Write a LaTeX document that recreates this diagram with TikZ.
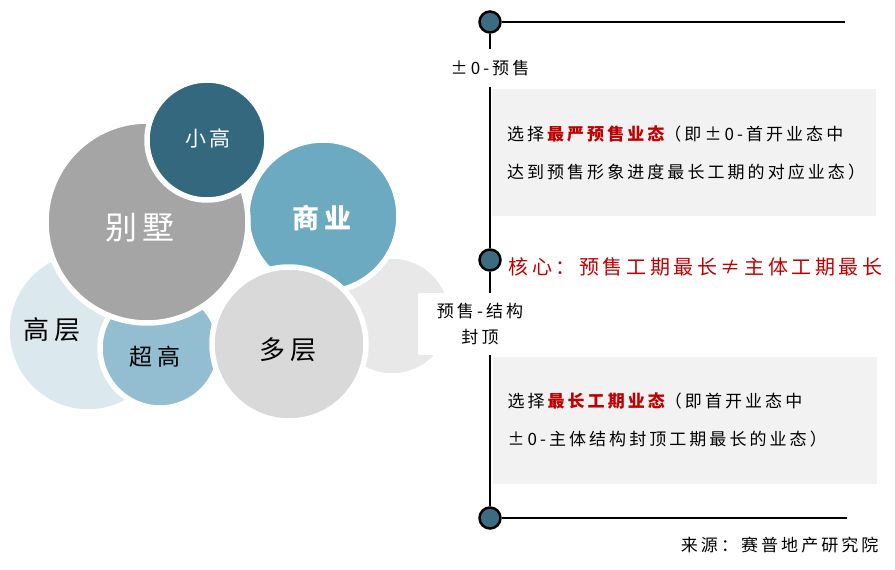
\documentclass[tikz,border=0pt]{standalone}
\usepackage{fontspec}
\setmainfont{Noto Sans CJK SC}[LetterSpace=18]
\definecolor{gaoceng}{HTML}{DBE9EF}
\definecolor{chaogao}{HTML}{93BED1}
\definecolor{sidegray}{HTML}{E8E8E8}
\definecolor{shangye}{HTML}{6BAAC1}
\definecolor{bieshu}{HTML}{A5A5A5}
\definecolor{xiaogao}{HTML}{33687E}
\definecolor{duoceng}{HTML}{D9D9D9}
\definecolor{dotblue}{HTML}{3B6C80}
\definecolor{boxgray}{HTML}{F2F2F2}
\definecolor{keyred}{HTML}{C00000}
\tikzset{
    bubble/.style={draw=white, line width=5.5pt},
    tdot/.style={circle, draw=black, line width=2.5pt, fill=dotblue, minimum size=21pt, inner sep=0pt},
    stage/.style={fill=white, font=\fontsize{17}{26}\selectfont},
    notebox/.style={fill=boxgray, minimum width=384pt, minimum height=127pt, text width=354pt,
        inner xsep=15pt, align=left, font=\fontsize{17}{38}\selectfont},
    tline/.style={line width=1.2pt}
}

\begin{document}
\begin{tikzpicture}[x=1pt, y=-1pt]

            \useasboundingbox (0,0) rectangle (895,570);

            \foreach \cx/\cy/\r/\col in {88/331/81/gaoceng, 160/348/60/chaogao, 392/316/60/sidegray,
                    323/216/76/shangye, 147/222/101/bieshu, 207/140/60/xiaogao, 289/344/77/duoceng} {
                    \filldraw[bubble, fill=\col] (\cx,\cy) circle (\r pt);
                }

            \node[text=white, font=\fontsize{32}{32}\selectfont] (bieshuT) at (140,228) {别墅};
            \node[text=white, font=\fontsize{21}{21}\selectfont] (xiaogaoT) at (208,138) {小高};
            \node[text=white, font=\bfseries\fontsize{27}{27}\selectfont] (shangyeT) at (322,218) {商业};
            \node[font=\fontsize{26}{26}\selectfont] (gaocengT) at (52,330) {高层};
            \node[font=\fontsize{23}{23}\selectfont] (chaogaoT) at (155,357) {超高};
            \node[font=\fontsize{26}{26}\selectfont] (duocengT) at (288,350) {多层};

            \node[tdot] (d1) at (490,22) {};
            \node[tdot] (d2) at (490,260) {};
            \node[tdot] (d3) at (490,518) {};
            \coordinate (e1) at (845,22);
            \coordinate (e3) at (847,518);

            \node[stage, minimum height=37pt] (s1) at (490,68) {±0-预售};
            \node[stage, align=center, minimum width=124pt, minimum height=62pt] (s2) at (480,324) {预售-结构\\封顶};

            \node[notebox] (n1) at (684,152.5) {选择\textbf{\color{keyred}最严预售业态}（即±0-首开业态中\\达到预售形象进度最长工期的对应业态）};
            \node[notebox] (n2) at (684.5,420) {选择\textbf{\color{keyred}最长工期业态}（即首开业态中\\±0-主体结构封顶工期最长的业态）};

            \node[anchor=west, text=keyred, font=\fontsize{20}{24}\selectfont] (core) at (505,267) {核心：预售工期最长≠主体工期最长};
            \node[anchor=east, font=\fontsize{17}{20}\selectfont] (src) at (882,545) {来源：赛普地产研究院};

            \draw[tline] (d1) -- (e1);
            \draw[tline] (d1) -- (s1);
            \draw[tline] (s1) -- (d2);
            \draw[tline] (d2) -- (d2 |- s2.north);
            \draw[tline] (d2 |- s2.south) -- (d3);
            \draw[tline] (d3) -- (e3);
        \end{tikzpicture}
\end{document}
